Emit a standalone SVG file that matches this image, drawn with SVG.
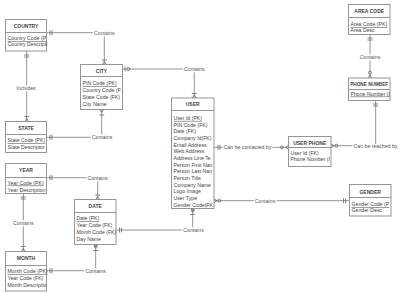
<svg xmlns="http://www.w3.org/2000/svg" width="400" height="293" viewBox="0 0 400 293">
<style>
.box{fill:#fff;stroke:#959595;stroke-width:1}
.div{stroke:#959595;stroke-width:1}
.t{font-family:"Liberation Sans",Arial,sans-serif;font-size:5px;font-weight:bold;fill:#444;text-anchor:middle}
.a{font-family:"Liberation Sans",Arial,sans-serif;font-size:5.2px;fill:#444}
.u{text-decoration:underline}
.ln{fill:none;stroke:#888;stroke-width:0.9}
.sym{fill:none;stroke:#666;stroke-width:0.8}
.lab{font-family:"Liberation Sans",Arial,sans-serif;font-size:5.2px;fill:#555;text-anchor:middle;stroke:#fff;stroke-width:2.5;paint-order:stroke}
</style>
<rect width="400" height="293" fill="#fff"/>
<g id="connectors">
  <path class="ln" d="M46.5,32.7 H104.3 V64.5"/>
  <path class="ln" d="M26.7,51 V121.5"/>
  <path class="ln" d="M46.5,137.3 H101.7 V109.5"/>
  <path class="ln" d="M122.5,69 H194.3 V98"/>
  <path class="ln" d="M46.5,177.7 H97.7 V199.5"/>
  <path class="ln" d="M23.3,193.5 V251.5"/>
  <path class="ln" d="M116,230 H192.7 V208.5"/>
  <path class="ln" d="M46.5,270.7 H95.7 V244.5"/>
  <path class="ln" d="M214,147.3 H288.5"/>
  <path class="ln" d="M331,145.7 H375.7 V100.5"/>
  <path class="ln" d="M370,34.5 V78"/>
  <path class="ln" d="M214,200.7 H349.5"/>

  <path class="sym" d="M50,30.2 V35.2 M52,30.2 V35.2"/>
  <path class="sym" d="M101.8,60 H106.8 M102.3,64.5 L104.3,61.5 L106.3,64.5"/>
  <path class="sym" d="M24.2,55 H29.2 M24.2,57 H29.2"/>
  <path class="sym" d="M24.2,116.5 H29.2 M24.7,121.5 L26.7,118.5 L28.7,121.5"/>
  <path class="sym" d="M50,134.8 V139.8 M52,134.8 V139.8"/>
  <path class="sym" d="M99.7,109.5 L101.7,112.5 L103.7,109.5 M99.2,115 H104.2"/>
  <path class="sym" d="M125,66.5 V71.5"/>
  <circle class="sym" cx="128.3" cy="69" r="1.5"/>
  <path class="sym" d="M191.8,93.5 H196.8 M192.3,98 L194.3,95 L196.3,98"/>
  <path class="sym" d="M50,175.2 V180.2 M52,175.2 V180.2"/>
  <path class="sym" d="M95.2,195 H100.2 M95.7,199.5 L97.7,196.5 L99.7,199.5"/>
  <path class="sym" d="M20.8,197 H25.8 M20.8,199 H25.8"/>
  <path class="sym" d="M20.8,246.5 H25.8 M21.3,251.5 L23.3,248.5 L25.3,251.5"/>
  <path class="sym" d="M119.5,227.5 V232.5 M121.5,227.5 V232.5"/>
  <circle class="sym" cx="192.7" cy="210.5" r="1.5"/>
  <path class="sym" d="M190.7,208.5 L192.7,211 L194.7,208.5 M190.2,214.5 H195.2"/>
  <path class="sym" d="M50,268.2 V273.2 M52,268.2 V273.2"/>
  <circle class="sym" cx="95.7" cy="246.5" r="1.5"/>
  <path class="sym" d="M93.7,244.5 L95.7,247 L97.7,244.5 M93.2,250.5 H98.2"/>
  <path class="sym" d="M218,144.8 V149.8 M220,144.8 V149.8"/>
  <circle class="sym" cx="282" cy="147.3" r="1.5"/>
  <path class="sym" d="M288.5,145.3 L285.5,147.3 L288.5,149.3"/>
  <path class="sym" d="M331,143.7 L334,145.7 L331,147.7"/>
  <circle class="sym" cx="336.3" cy="145.7" r="1.5"/>
  <path class="sym" d="M373.2,104 H378.2 M373.2,106 H378.2"/>
  <path class="sym" d="M367.5,38 H372.5 M367.5,40 H372.5"/>
  <circle class="sym" cx="370" cy="72.5" r="1.5"/>
  <path class="sym" d="M368,78 L370,75 L372,78"/>
  <path class="sym" d="M214,198.7 L217,200.7 L214,202.7"/>
  <circle class="sym" cx="219.3" cy="200.7" r="1.5"/>
  <path class="sym" d="M343.5,198.2 V203.2 M345.5,198.2 V203.2"/>

  <text class="lab" x="104.3" y="34.6">Contains</text>
  <text class="lab" x="26" y="89.8">Includes</text>
  <text class="lab" x="102" y="139.2">Contains</text>
  <text class="lab" x="194.3" y="70.9">Contains</text>
  <text class="lab" x="97.7" y="179.6">Contains</text>
  <text class="lab" x="23.3" y="225.2">Contains</text>
  <text class="lab" x="193.5" y="231.9">Contains</text>
  <text class="lab" x="95.7" y="272.6">Contains</text>
  <text class="lab" x="247.5" y="149.2">Can be contacted by</text>
  <text class="lab" x="375.5" y="147.6">Can be reached by</text>
  <text class="lab" x="370" y="58.9">Contains</text>
  <text class="lab" x="265" y="202.6">Contains</text>
</g>

<g id="country">
  <rect class="box" x="5.5" y="19.5" width="41" height="31.5"/>
  <line class="div" x1="5.5" y1="32.5" x2="46.5" y2="32.5"/>
  <text class="t" x="26" y="27.5">COUNTRY</text>
  <text class="a u" x="7.5" y="40">Country Code (P</text>
  <text class="a" x="7.5" y="46.2">Country Descripti</text>
</g>
<g id="city">
  <rect class="box" x="80.5" y="64.5" width="42" height="45"/>
  <line class="div" x1="80.5" y1="76.5" x2="122.5" y2="76.5"/>
  <text class="t" x="101.5" y="72.5">CITY</text>
  <text class="a u" x="82.5" y="85.2">PIN Code (PK)</text>
  <text class="a" x="82.5" y="92">Country Code (F</text>
  <text class="a" x="82.5" y="98.8">State Code (FK)</text>
  <text class="a" x="82.5" y="105.5">City Name</text>
</g>
<g id="state">
  <rect class="box" x="5.5" y="121.5" width="41" height="31"/>
  <line class="div" x1="5.5" y1="134.5" x2="46.5" y2="134.5"/>
  <text class="t" x="26" y="129.5">STATE</text>
  <text class="a u" x="7.5" y="142">State Code (PK)</text>
  <text class="a" x="7.5" y="148.8">State Descriptor</text>
</g>
<g id="year">
  <rect class="box" x="5.5" y="163.5" width="41" height="30"/>
  <line class="div" x1="5.5" y1="177.5" x2="46.5" y2="177.5"/>
  <text class="t" x="26" y="172.2">YEAR</text>
  <text class="a u" x="7.5" y="184.6">Year Code (PK)</text>
  <text class="a" x="7.5" y="191.6">Year Description</text>
</g>
<g id="date">
  <rect class="box" x="74.5" y="199.5" width="41.5" height="45"/>
  <line class="div" x1="74.5" y1="212.5" x2="116" y2="212.5"/>
  <text class="t" x="95.2" y="207.6">DATE</text>
  <text class="a u" x="76.5" y="220.2">Date (PK)</text>
  <text class="a" x="76.5" y="227.1">Year Code (FK)</text>
  <text class="a" x="76.5" y="233.9">Month Code (FK)</text>
  <text class="a" x="76.5" y="240.8">Day Name</text>
</g>
<g id="month">
  <rect class="box" x="5.5" y="251.5" width="41" height="39.5"/>
  <line class="div" x1="5.5" y1="265.5" x2="46.5" y2="265.5"/>
  <text class="t" x="26" y="260.2">MONTH</text>
  <text class="a u" x="7.5" y="273.2">Month Code (PK)</text>
  <text class="a" x="7.5" y="279.9">Year Code (FK)</text>
  <text class="a" x="7.5" y="286.6">Month Descriptio</text>
</g>
<g id="user">
  <rect class="box" x="171.5" y="98" width="42.5" height="110.5"/>
  <line class="div" x1="171.5" y1="110.5" x2="214" y2="110.5"/>
  <text class="t" x="192.7" y="105.9">USER</text>
  <text class="a u" x="173.5" y="119.9">User Id (PK)</text>
  <text class="a" x="173.5" y="126.6">PIN Code (FK)</text>
  <text class="a" x="173.5" y="133.2">Date (FK)</text>
  <text class="a" x="173.5" y="139.9">Company Id(FK)</text>
  <text class="a" x="173.5" y="146.6">Email Address</text>
  <text class="a" x="173.5" y="153.2">Web Address</text>
  <text class="a" x="173.5" y="159.9">Address Line Te</text>
  <text class="a" x="173.5" y="166.6">Person First Nan</text>
  <text class="a" x="173.5" y="173.2">Person Last Nan</text>
  <text class="a" x="173.5" y="179.9">Person Title</text>
  <text class="a" x="173.5" y="186.6">Company Name</text>
  <text class="a" x="173.5" y="193.2">Logo Image</text>
  <text class="a" x="173.5" y="199.9">User Type</text>
  <text class="a" x="173.5" y="206.6">Gender Code(FK</text>
</g>
<g id="area-code">
  <rect class="box" x="348.5" y="4.5" width="41.5" height="30"/>
  <line class="div" x1="348.5" y1="17.5" x2="390" y2="17.5"/>
  <text class="t" x="369.2" y="12.6">AREA CODE</text>
  <text class="a u" x="350.5" y="26.2">Area Code (PK)</text>
  <text class="a" x="350.5" y="32.2">Area Desc</text>
</g>
<g id="phone-number">
  <rect class="box" x="348.5" y="78" width="41.5" height="22.5"/>
  <line class="div" x1="348.5" y1="89.5" x2="390" y2="89.5"/>
  <text class="t" x="369.2" y="86.2" style="font-size:4.7px">PHONE NUMBEF</text>
  <text class="a u" x="350.5" y="95.6">Phone Number (I</text>
</g>
<g id="user-phone">
  <rect class="box" x="288.5" y="136.5" width="42.5" height="30"/>
  <line class="div" x1="288.5" y1="147.5" x2="331" y2="147.5"/>
  <text class="t" x="309.7" y="144.6">USER PHONE</text>
  <text class="a" x="290.5" y="155.2">User Id (FK)</text>
  <text class="a" x="290.5" y="161">Phone Number (I</text>
</g>
<g id="gender">
  <rect class="box" x="349.5" y="184.5" width="41.5" height="31.5"/>
  <line class="div" x1="349.5" y1="197.5" x2="391" y2="197.5"/>
  <text class="t" x="370.2" y="193.6">GENDER</text>
  <text class="a u" x="351.5" y="206.2">Gender Code (P</text>
  <text class="a" x="351.5" y="212">Gender Desc</text>
</g>
</svg>
